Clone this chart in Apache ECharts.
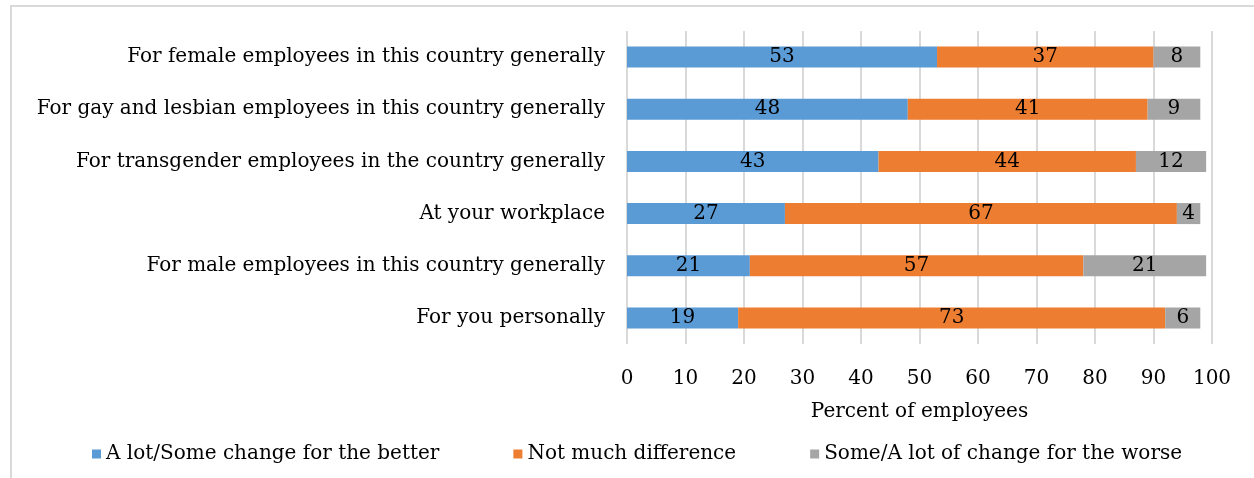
<!DOCTYPE html>
<html>
<head>
<meta charset="utf-8">
<script src="https://cdn.jsdelivr.net/npm/echarts@6/dist/echarts.min.js"></script>
<style>
  html, body { margin: 0; padding: 0; background: #fff; }
  #chart { width: 1254px; height: 478px; }
</style>
</head>
<body>
<div id="chart"></div>
<script>
const categories = [
  "For female employees in this country generally",
  "For gay and lesbian employees in this country generally",
  "For transgender employees in the country generally",
  "At your workplace",
  "For male employees in this country generally",
  "For you personally"
];
const better = [53, 48, 43, 27, 21, 19];
const noDiff = [37, 41, 44, 67, 57, 73];
const worse = [8, 9, 12, 4, 21, 6];
const xTicks = [0, 10, 20, 30, 40, 50, 60, 70, 80, 90, 100];

const font = "DejaVu Serif";
const fs = 20;

const chart = echarts.init(document.getElementById("chart"), null, { renderer: "canvas" });

function bar(name, data, color) {
  return {
    name: name,
    type: "bar",
    stack: "x",
    data: data,
    barWidth: 21,
    itemStyle: { color: color },
    label: {
      show: true,
      position: "inside",
      color: "#000",
      fontFamily: font,
      fontSize: fs
    },
    animation: false
  };
}

chart.setOption({
  animation: false,
  graphic: [
    {
      type: "polyline",
      shape: { points: [[11, 478], [11, 6], [1254, 6]] },
      style: { stroke: "#d9d9d9", lineWidth: 2, fill: null }
    }
  ],
  grid: { left: 627, right: 42, top: 31, bottom: 134 },
  legend: {
    bottom: 9,
    left: 87,
    itemWidth: 9,
    itemHeight: 9,
    itemGap: 74,
    icon: "rect",
    textStyle: { fontFamily: font, fontSize: fs, color: "#000" },
    data: [
      "A lot/Some change for the better",
      "Not much difference",
      "Some/A lot of change for the worse"
    ]
  },
  xAxis: {
    type: "value",
    min: xTicks[0],
    max: xTicks[xTicks.length - 1],
    interval: 10,
    name: "Percent of employees",
    nameLocation: "middle",
    nameGap: 58,
    nameTextStyle: { fontFamily: font, fontSize: fs, color: "#000" },
    axisLine: { show: false },
    axisTick: { show: false },
    axisLabel: { fontFamily: font, fontSize: fs, color: "#000", margin: 25 },
    splitLine: { lineStyle: { color: "#d9d9d9", width: 2 } }
  },
  yAxis: {
    type: "category",
    data: categories,
    inverse: true,
    axisLine: { show: false },
    axisTick: { show: false },
    axisLabel: { fontFamily: font, fontSize: fs, color: "#000", margin: 22 }
  },
  series: [
    bar("A lot/Some change for the better", better, "#5b9bd5"),
    bar("Not much difference", noDiff, "#ed7d31"),
    bar("Some/A lot of change for the worse", worse, "#a5a5a5")
  ]
});
</script>
</body>
</html>
